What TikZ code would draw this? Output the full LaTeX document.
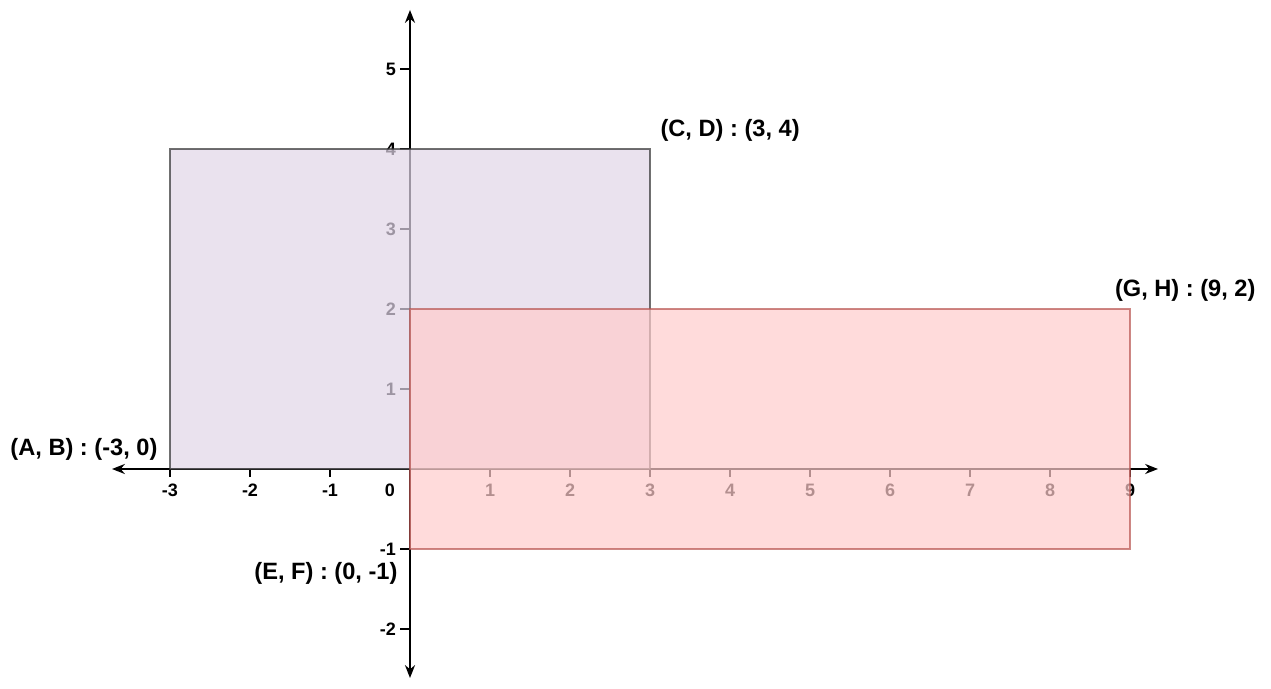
\documentclass[tikz,border=0pt]{standalone}
\usepackage{fontspec}
\setmainfont{Liberation Sans}
\usetikzlibrary{positioning, arrows.meta}
\definecolor{purplefill}{HTML}{E1D5E7}
\definecolor{purpleline}{HTML}{333333}
\definecolor{redfill}{HTML}{FFCCCC}
\definecolor{redline}{HTML}{B85450}
\tikzset{
  % Axes
  axisline/.style  = { line width=0.55pt,
                       {Stealth[length=4.6pt, width=3.6pt]}-{Stealth[length=4.6pt, width=3.6pt]} },
  tickmark/.style  = { line width=0.45pt },
  ticklabel/.style = { font=\fontsize{6.4}{7}\selectfont\bfseries, inner sep=0pt },
  % Rectangles and corner labels
  purplerect/.style = { draw=purpleline, fill=purplefill, line width=0.7pt, opacity=0.7 },
  redrect/.style    = { draw=redline, fill=redfill, line width=0.7pt, opacity=0.7 },
  cornerlabel/.style = { font=\fontsize{8.4}{10}\selectfont\bfseries, inner sep=0pt }
}

\begin{document}
\begin{tikzpicture}

  \useasboundingbox (-5.125,-2.75) rectangle (10.7625,5.8625);

  % --- axes and ticks -------------------------------------------------
  \coordinate (O)    at (0,0);
  \coordinate (xmin) at (-3.725,0);
  \coordinate (xmax) at (9.35,0);
  \coordinate (ymin) at (0,-2.6125);
  \coordinate (ymax) at (0,5.7375);

  \draw[axisline] (xmin) -- (xmax);
  \draw[axisline] (ymin) -- (ymax);

  \foreach \x in {-3,-2,-1,1,2,3,4,5,6,7,8,9} {
    \draw[tickmark] (\x,0) -- ++(0,-0.1);
    \node[ticklabel] (xl\x) at (\x,-0.27) {\x};
  }
  \node[ticklabel] (xl0) at (-0.25,-0.27) {0};
  \foreach \y in {-2,-1,1,2,3,4,5} {
    \draw[tickmark] (0,\y) -- ++(-0.125,0);
    \node[ticklabel, anchor=east] (yl\y) at (-0.17,\y) {\y};
  }

  % --- rectangles -----------------------------------------------------
  \coordinate (AB) at (-3,0);
  \coordinate (CD) at (3,4);
  \coordinate (EF) at (0,-1);
  \coordinate (GH) at (9,2);

  \draw[purplerect] (AB) rectangle (CD);
  \draw[redrect]    (EF) rectangle (GH);

  \node[cornerlabel, above left=0.1cm and 0.15cm of AB]  (labAB) {(A, B) : (-3, 0)};
  \node[cornerlabel, above right=0.09cm and 0.125cm of CD] (labCD) {(C, D) : (3, 4)};
  \node[cornerlabel, above=0.09cm of GH, xshift=0.69cm]   (labGH) {(G, H) : (9, 2)};
  \node[cornerlabel, below left=0.16cm and 0.15cm of EF]  (labEF) {(E, F) : (0, -1)};

\end{tikzpicture}
\end{document}
